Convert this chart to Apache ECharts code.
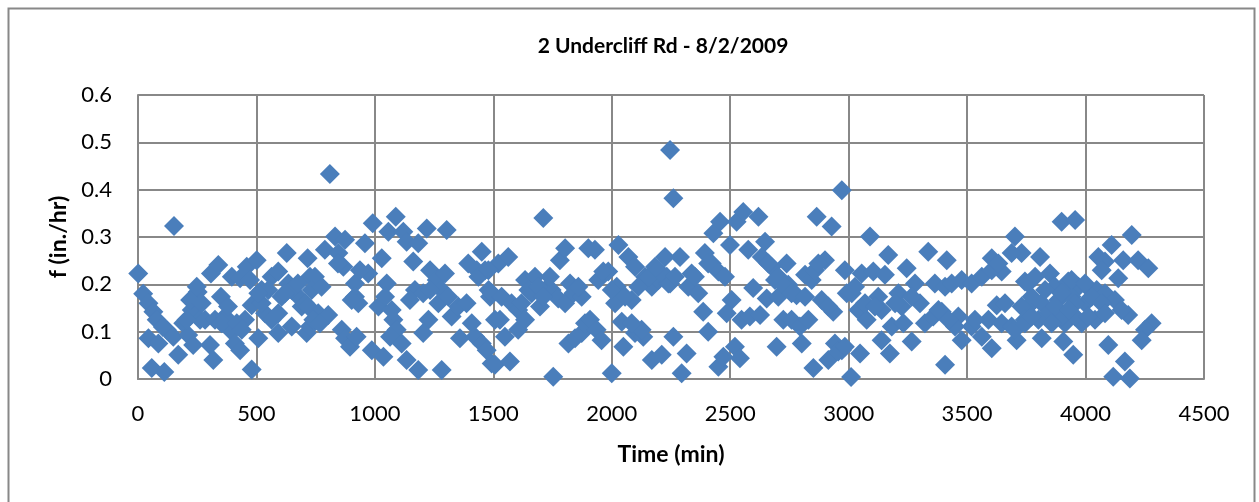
<!DOCTYPE html>
<html><head><meta charset="utf-8">
<script src="https://cdn.jsdelivr.net/npm/echarts@6/dist/echarts.min.js"></script>
<style>html,body{margin:0;padding:0;background:#fff}#c{width:1259px;height:502px}</style>
</head><body><div id="c"></div>
<script>
const title = "2 Undercliff Rd - 8/2/2009";
const xName = "Time (min)";
const yName = "f (in./hr)";
const xTicks = [0, 500, 1000, 1500, 2000, 2500, 3000, 3500, 4000, 4500];
const yTicks = [0, 0.1, 0.2, 0.3, 0.4, 0.5, 0.6];

// time (min)
const timeMin = [
1,152,22,44,65,79,44,86,58,111,121,149,170,191,212,233,227,252,220,262,283,304,318,308,339,350,325,367,396,409,431,396,431,459,473,501,452,480,508,480,522,536,564,592,564,592,628,635,649,677,691,712,716,726,
522,550,606,649,675,705,508,592,620,105,205,269,248,353,380,417,438,
810,747,733,775,719,761,803,726,789,832,846,874,867,916,958,972,916,930,902,860,874,895,923,987,1036,1015,1050,1029,991,1088,1057,1120,1134,1183,1219,1303,1162,1078,1092,1064,1113,1134,1183,1282,1169,1148,1204,1233,1261,1296,1282,1268,1226,1204,1324,1352,1387,1409,1359,1423,1451,1472,1493,1394,1451,1465,1486,1507,
740,768,844,937,1043,1071,1233,1310,1430,1437,1480,
1711,2246,2260,1521,1563,1479,1493,1535,1577,1605,1528,1549,1605,1634,1507,1570,1634,1676,1662,1697,1718,1753,1746,1781,1803,1774,1803,1824,1838,1873,1817,1845,1873,1887,1908,1936,1957,1901,1929,1943,1985,2000,2028,2021,2014,2042,2049,2070,2098,2084,2098,2133,2169,2211,2140,2169,2183,2225,2197,2239,
1619,1648,1690,1711,1739,1859,1964,2000,2056,2112,2155,2197,2232,2126,2084,
2288,2246,2337,2323,2365,2393,2422,2450,2478,2429,2457,2527,2555,2619,2499,2576,2647,2386,2407,2260,2316,2295,2450,2471,2520,2541,2506,2485,2548,2583,2626,2597,2654,2633,2675,2703,2738,2703,2745,2780,2724,2759,2794,2830,2802,2696,2851,2816,2844,2900,2865,2928,2971,2886,2935,2984,2992,2942,2971,2914,3010,
2267,2351,2407,2661,2689,2731,2759,2858,2872,2816,2914,2956,
3090,3055,3104,3153,3167,3245,3280,3336,3414,3013,3041,3076,3125,3139,3210,3224,3301,3182,3139,3174,3048,2984,3231,3266,3322,3357,3393,3364,3407,3435,3477,3519,3562,3604,3646,3407,3463,3477,3449,3519,3562,3590,3604,3625,3660,3646,3688,3709,3702,3730,3688,3744,3758,
3027,3069,3111,3196,3266,3379,3421,3533,3730,3744,3604,3632,3702,
3899,3956,3808,3850,3758,3772,3815,3871,3927,3970,4012,4047,4082,4124,3885,3941,3998,3843,3801,3913,3984,4040,3744,3815,3906,3948,4054,4110,4195,4082,4159,4222,4265,4138,4180,4152,4279,4251,4237,4096,4166,4117,4187,
3787,3829,3899,3956,4026,4068,3941,3998,3899,3956,4012,3871,3927,4082,3772,3857,4068
];
// f (in./hr)
const fRate = [
0.223,0.323,0.18,0.16,0.142,0.125,0.086,0.075,0.023,0.015,0.104,0.089,0.051,0.118,0.093,0.072,0.146,0.184,0.167,0.125,0.125,0.072,0.04,0.223,0.241,0.174,0.125,0.132,0.1,0.075,0.061,0.216,0.213,0.237,0.209,0.251,0.125,0.02,0.086,0.156,0.188,0.139,0.125,0.097,0.216,0.227,0.266,0.202,0.111,0.174,0.153,0.097,0.255,0.216,
0.16,0.188,0.174,0.188,0.202,0.16,0.181,0.139,0.181,0.11,0.125,0.16,0.195,0.118,0.153,0.118,0.104,
0.433,0.216,0.188,0.195,0.153,0.139,0.135,0.111,0.273,0.301,0.266,0.294,0.237,0.202,0.287,0.223,0.174,0.16,0.167,0.104,0.086,0.068,0.089,0.061,0.047,0.153,0.202,0.255,0.329,0.343,0.311,0.311,0.29,0.287,0.318,0.315,0.248,0.125,0.104,0.089,0.075,0.04,0.019,0.019,0.188,0.167,0.181,0.23,0.209,0.223,0.188,0.16,0.125,0.097,0.132,0.153,0.16,0.118,0.086,0.089,0.075,0.061,0.033,0.244,0.269,0.23,0.174,0.125,
0.125,0.118,0.244,0.23,0.174,0.146,0.188,0.174,0.23,0.216,0.188,
0.34,0.484,0.382,0.244,0.258,0.23,0.181,0.174,0.16,0.146,0.125,0.089,0.104,0.125,0.03,0.037,0.209,0.216,0.181,0.153,0.188,0.005,0.188,0.251,0.276,0.17,0.16,0.202,0.181,0.174,0.075,0.086,0.097,0.118,0.125,0.104,0.082,0.276,0.273,0.209,0.227,0.012,0.283,0.195,0.16,0.121,0.068,0.258,0.237,0.167,0.097,0.089,0.04,0.051,0.216,0.195,0.237,0.258,0.209,0.202,
0.16,0.188,0.195,0.174,0.216,0.195,0.227,0.188,0.174,0.195,0.216,0.23,0.216,0.104,0.118,
0.258,0.202,0.223,0.195,0.181,0.266,0.244,0.227,0.216,0.308,0.332,0.332,0.353,0.343,0.283,0.273,0.29,0.142,0.1,0.089,0.054,0.012,0.026,0.047,0.068,0.044,0.167,0.139,0.125,0.132,0.135,0.192,0.17,0.258,0.237,0.216,0.244,0.174,0.199,0.177,0.125,0.125,0.111,0.125,0.075,0.068,0.023,0.22,0.209,0.251,0.343,0.322,0.399,0.167,0.142,0.23,0.181,0.075,0.061,0.04,0.004,
0.216,0.216,0.244,0.244,0.209,0.195,0.181,0.23,0.244,0.174,0.153,0.058,
0.301,0.223,0.227,0.22,0.262,0.234,0.202,0.269,0.251,0.181,0.146,0.125,0.174,0.146,0.181,0.153,0.16,0.111,0.082,0.054,0.054,0.068,0.118,0.079,0.118,0.132,0.142,0.202,0.195,0.202,0.209,0.202,0.216,0.255,0.227,0.03,0.132,0.082,0.111,0.111,0.089,0.125,0.065,0.156,0.16,0.118,0.111,0.082,0.301,0.266,0.266,0.206,0.153,
0.195,0.16,0.153,0.16,0.174,0.146,0.125,0.125,0.153,0.125,0.23,0.244,0.104,
0.332,0.336,0.258,0.223,0.202,0.174,0.16,0.195,0.206,0.195,0.192,0.188,0.181,0.167,0.167,0.174,0.16,0.139,0.125,0.118,0.118,0.125,0.118,0.086,0.079,0.051,0.258,0.283,0.304,0.248,0.251,0.251,0.234,0.213,0.135,0.146,0.118,0.104,0.082,0.072,0.037,0.005,0.001,
0.216,0.188,0.181,0.16,0.174,0.16,0.209,0.202,0.132,0.132,0.132,0.153,0.146,0.139,0.132,0.118,0.23
];

const points = timeMin.map((t, i) => [t, fRate[i]]);
const FONT = "Lato, 'Liberation Sans', sans-serif";
const chart = echarts.init(document.getElementById('c'), null, {renderer: 'canvas'});
chart.setOption({
  animation: false,
  backgroundColor: '#fff',
  graphic: [{
    type: 'rect', left: 6, top: 6, silent: true,
    shape: {x: 0, y: 0, width: 1246, height: 520},
    style: {fill: 'none', stroke: '#888', lineWidth: 2}
  }, {
    type: 'text', x: 663, y: 46, silent: true,
    style: {text: title, fontFamily: FONT, fontSize: 21, fontWeight: 'bold', fill: '#000',
            align: 'center', verticalAlign: 'middle'}
  }],
  grid: {left: 138, right: 55, top: 95, bottom: 123, containLabel: false},
  xAxis: {
    type: 'value', min: xTicks[0], max: xTicks[xTicks.length - 1], interval: 500,
    name: xName, nameLocation: 'middle', nameGap: 64,
    nameTextStyle: {fontFamily: FONT, fontSize: 23, fontWeight: 'bold', color: '#000'},
    axisLine: {show: true, lineStyle: {color: '#888', width: 2}},
    axisTick: {show: false},
    axisLabel: {fontFamily: FONT, fontSize: 22, color: '#000', margin: 24,
                formatter: v => String(v)},
    splitLine: {show: true, lineStyle: {color: '#888', width: 2}}
  },
  yAxis: {
    type: 'value', min: yTicks[0], max: yTicks[yTicks.length - 1], interval: 0.1,
    name: yName, nameLocation: 'middle', nameGap: 62, nameRotate: 90,
    nameTextStyle: {fontFamily: FONT, fontSize: 23, fontWeight: 'bold', color: '#000'},
    axisLine: {show: true, lineStyle: {color: '#888', width: 2}},
    axisTick: {show: false},
    axisLabel: {fontFamily: FONT, fontSize: 22, color: '#000', margin: 26,
                formatter: v => String(Math.round(v * 10) / 10)},
    splitLine: {show: true, lineStyle: {color: '#888', width: 2}}
  },
  series: [{
    type: 'scatter', data: points, symbol: 'diamond', symbolSize: [20, 20],
    itemStyle: {color: '#4A7EBB', opacity: 1},
    clip: false
  }]
});
</script></body></html>
